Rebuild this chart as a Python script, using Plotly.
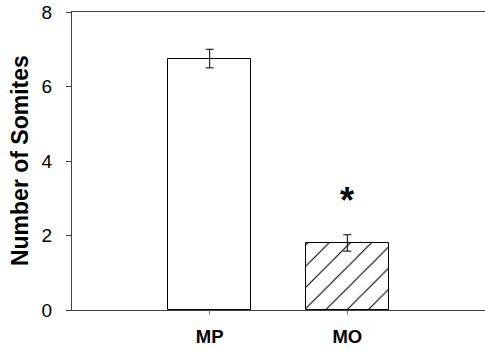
import plotly.graph_objects as go

categories = ["MP", "MO"]
values = [6.75, 1.8]
errors = [0.25, 0.22]
y_ticks = [0, 2, 4, 6, 8]
annotation_text = "*"

fig = go.Figure()
fig.add_trace(go.Bar(
    x=[0, 1], y=values,
    width=0.6,
    marker=dict(
        color="white",
        line=dict(color="black", width=1),
        pattern=dict(shape=["", "/"], fgcolor="black", bgcolor="white", fgopacity=1,
                     fillmode="replace", size=15, solidity=0.075),
    ),
    error_y=dict(type="data", array=errors, color="black", thickness=1, width=4),
    showlegend=False,
))

fig.add_annotation(x=1, y=values[1] + errors[1], yshift=34, text="<b>" + annotation_text + "</b>",
                   showarrow=False, font=dict(family="Arial", size=36, color="black"),
                   xanchor="center", yanchor="middle")

fig.add_annotation(xref="paper", yref="paper", x=-0.126, y=0.503, text="<b>Number of Somites</b>",
                   textangle=-90, showarrow=False,
                   font=dict(family="Arial", size=23, color="black"),
                   xanchor="center", yanchor="middle")

fig.update_layout(
    width=485, height=351,
    margin=dict(l=72, r=0, t=12, b=41),
    plot_bgcolor="white", paper_bgcolor="white",
    bargap=0,
)
fig.update_xaxes(
    range=[-1, 2], tickvals=[0, 1], ticktext=["<b>MP</b>", "<b>MO</b>"],
    showline=True, linecolor="#444", linewidth=1, mirror=True,
    ticks="outside", ticklen=4, tickcolor="#888",
    showgrid=False, zeroline=False, ticklabelstandoff=6,
    tickfont=dict(family="Arial", size=18.5, color="black"),
)
fig.update_yaxes(
    range=[0, 8], tickvals=y_ticks,
    showline=True, linecolor="#444", linewidth=1,
    ticks="outside", ticklen=5, tickcolor="#444",
    showgrid=False, zeroline=False, ticklabelstandoff=10,
    tickfont=dict(family="Arial", size=19, color="black"),
)

fig.write_html("out.html")
